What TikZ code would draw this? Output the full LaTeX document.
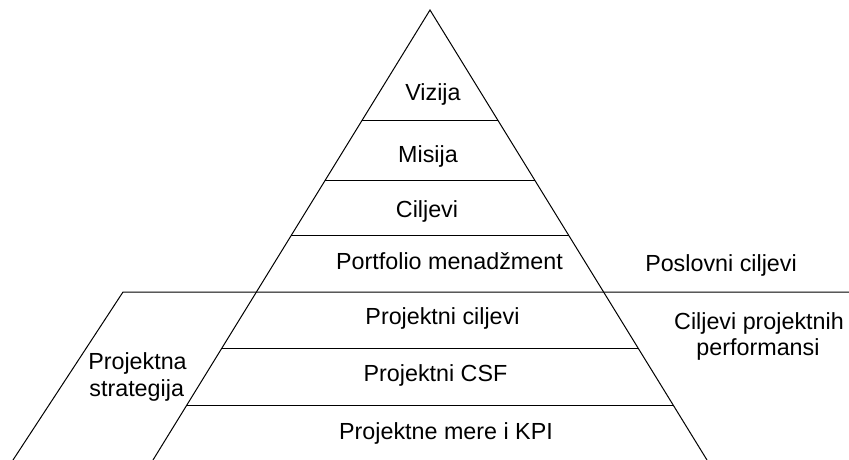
\documentclass[tikz,border=0pt]{standalone}
\usepackage{fontspec}
\setmainfont{Liberation Sans}
\usetikzlibrary{calc}
\begin{document}
\begin{tikzpicture}[x=1pt,y=-1pt,
  edge/.style={draw=black,line width=1pt},
  lbl/.style={inner sep=0pt,anchor=base,font=\fontsize{23.3}{26.7}\selectfont}]
\useasboundingbox (0,0) rectangle (849,460);
% triangle
\coordinate (apex) at (430,10);
\coordinate (bl) at (153,460);
\coordinate (br) at (707,460);
\draw[edge] (bl) -- (apex) -- (br);
% layer boundaries
\foreach \yy/\nm in {121/a,180/b,236/c,292/d,349/e,405/f}{
  \coordinate (L\nm) at ($(apex)!{(\yy-10)/450}!(bl)$);
  \coordinate (R\nm) at ($(apex)!{(\yy-10)/450}!(br)$);
}
\draw[edge] (La) -- (Ra);
\draw[edge] (Lb) -- (Rb);
\draw[edge] (Lc) -- (Rc);
\draw[edge] (Le) -- (Re);
\draw[edge] (Lf) -- (Rf);
% long separator and parallelogram
\coordinate (pTL) at (123,292);
\coordinate (pBL) at (13,460);
\coordinate (sepR) at (849,292);
\draw[edge] (pBL) -- (pTL) -- (sepR);
% labels
\node[lbl] (viz) at (433,100) {Vizija};
\node[lbl] (mis) at (428,162.3) {Misija};
\node[lbl] (cil) at (427,217.3) {Ciljevi};
\node[lbl] (port) at (449.5,269.3) {Portfolio menadžment};
\node[lbl] (posl) at (721,271) {Poslovni ciljevi};
\node[lbl] (pcil) at (442.5,324) {Projektni ciljevi};
\node[lbl] (pcsf) at (435.5,381.3) {Projektni CSF};
\node[lbl] (pmer) at (446,439.3) {Projektne mere i KPI};
\node[lbl] (cpA) at (759,329.3) {Ciljevi projektnih};
\node[lbl] (cpB) at (758,355.5) {performansi};
\node[lbl] (psA) at (137.5,369.3) {Projektna};
\node[lbl] (psB) at (136.7,396) {strategija};
\end{tikzpicture}
\end{document}
